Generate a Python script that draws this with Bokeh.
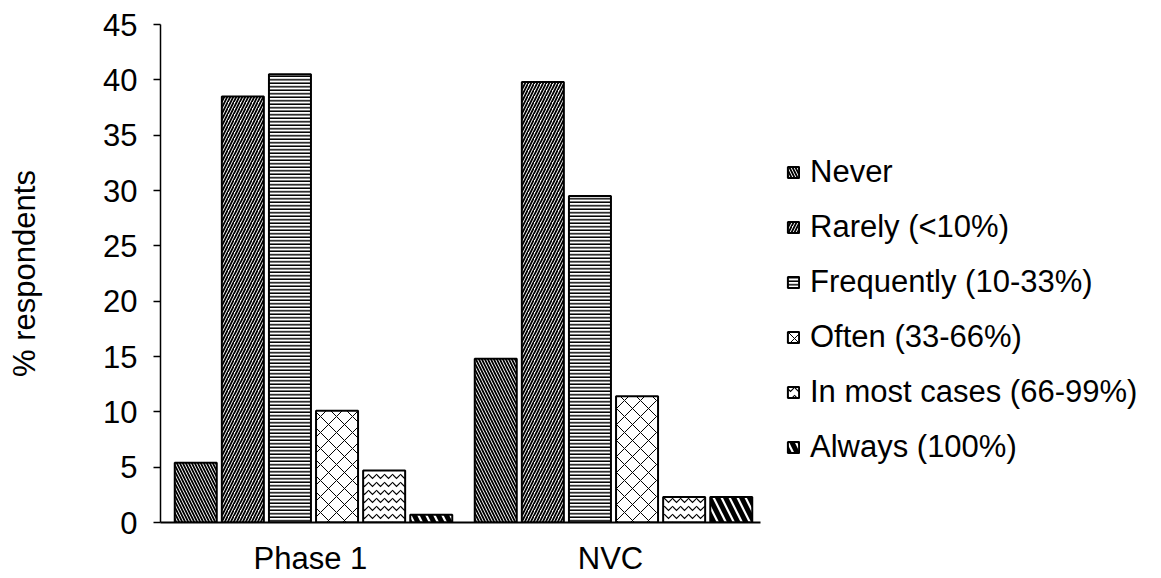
from bokeh.plotting import figure
from bokeh.models import FactorRange, Range1d, Legend, LegendItem, ColumnDataSource, FixedTicker
from bokeh.transform import dodge
from bokeh.embed import file_html
from bokeh.resources import INLINE

groups = ["Phase 1", "NVC"]
series = ["Never", "Rarely (<10%)", "Frequently (10-33%)", "Often (33-66%)",
          "In most cases (66-99%)", "Always (100%)"]
never = [5.4, 14.8]
rarely = [38.5, 39.8]
frequently = [40.5, 29.5]
often = [10.1, 11.4]
most_cases = [4.7, 2.3]
always = [0.7, 2.3]
y_ticks = [0, 5, 10, 15, 20, 25, 30, 35, 40, 45]
y_label = "% respondents"

FONT = "Liberation Sans"
FS = "31px"

src = ColumnDataSource(dict(group=groups, never=never, rarely=rarely, frequently=frequently,
                            often=often, most_cases=most_cases, always=always))
keys = ["never", "rarely", "frequently", "often", "most_cases", "always"]
hatch = [("\\", 6, 1.8), ("/", 6, 1.8), ("-", 3.5, 1.5), ("x", 16, 1.0), ("v", 8, 1.2), ("\\", 16, 5.0)]

p = figure(x_range=FactorRange(factors=groups), y_range=Range1d(0, 45),
           frame_width=600, frame_height=498,
           min_border_left=160, min_border_top=24, min_border_bottom=50, min_border_right=0,
           output_backend="svg", toolbar_location=None)

pitch = 0.157
bw = 0.14
renderers = []
for i, k in enumerate(keys):
    pat, sc, wt = hatch[i]
    r = p.vbar(x=dodge("group", (i - 2.5) * pitch + 0.01, range=p.x_range), top=k, width=bw,
               source=src, fill_color="white", line_color="black", line_width=2,
               hatch_pattern=pat, hatch_scale=sc, hatch_weight=wt, hatch_color="black")
    renderers.append(r)

p.xgrid.visible = False
p.ygrid.visible = False
p.outline_line_color = None
p.background_fill_color = "white"
p.border_fill_color = "white"

p.yaxis.ticker = FixedTicker(ticks=y_ticks)
p.yaxis.minor_tick_line_color = None
p.yaxis.major_tick_out = 7
p.yaxis.major_tick_in = 0
p.yaxis.major_tick_line_width = 1.5
p.yaxis.axis_line_width = 1.5
p.yaxis.major_label_standoff = 16
p.yaxis.major_label_text_font = FONT
p.yaxis.major_label_text_font_size = FS
p.yaxis.major_label_text_color = "black"
p.yaxis.axis_label = y_label
p.yaxis.axis_label_text_font = FONT
p.yaxis.axis_label_text_font_size = FS
p.yaxis.axis_label_text_font_style = "normal"
p.yaxis.axis_label_text_color = "black"
p.yaxis.axis_label_standoff = 58

p.xaxis.major_tick_line_color = None
p.xaxis.major_tick_out = 0
p.xaxis.major_tick_in = 0
p.xaxis.axis_line_width = 2
p.xaxis.major_label_standoff = 18
p.xaxis.major_label_text_font = FONT
p.xaxis.major_label_text_font_size = FS
p.xaxis.major_label_text_color = "black"

legend = Legend(items=[LegendItem(label=s, renderers=[r]) for s, r in zip(series, renderers)],
                location=(26, 57), label_text_font=FONT, label_text_font_size=FS,
                label_text_color="black", glyph_width=14, glyph_height=14, label_standoff=10,
                label_height=36, spacing=19, padding=0, margin=0,
                border_line_color=None, background_fill_alpha=0)
p.add_layout(legend, "right")
p.min_border_right = 395

open("out.html", "w").write(file_html(p, INLINE))
